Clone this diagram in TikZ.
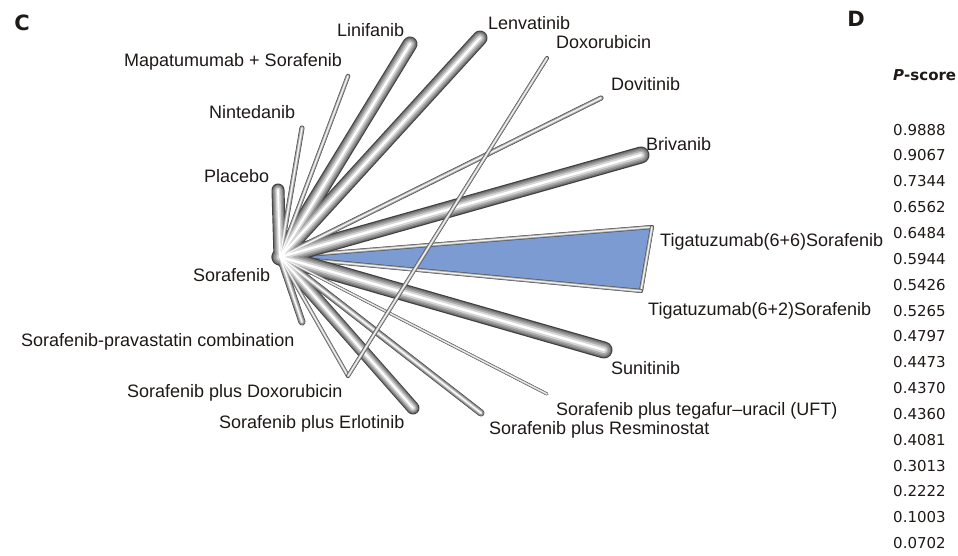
\documentclass[tikz,border=0pt]{standalone}
\usepackage{fontspec}
\setmainfont{Liberation Sans}
\newfontfamily\numfont{DejaVu Sans}
\definecolor{tribl}{RGB}{123,155,210}
\definecolor{inkc}{RGB}{30,24,22}
\newcommand{\tube}[3]{%
  \foreach \f/\c in {1/75,0.86/56,0.72/44,0.55/32,0.36/16,0.14/0}
    \draw[line width=\f*#3pt, black!\c, line cap=round] (#1) -- (#2);
}
\begin{document}
\begin{tikzpicture}[x=1pt,y=-1pt,
  lbl/.style={font=\fontsize{18}{21}\selectfont, inner sep=0pt, anchor=mid west, text=inkc},
  pval/.style={font=\numfont\fontsize{15}{18}\selectfont, inner sep=0pt, anchor=mid west, text=inkc},
  panel/.style={font=\numfont\bfseries\fontsize{21}{24}\selectfont, inner sep=0pt, text=inkc}]
\useasboundingbox (0,0) rectangle (958,556);
% end points of the edges
\coordinate (sor) at (280,257);
\coordinate (plac) at (278,190);
\coordinate (nint) at (302,128);
\coordinate (mapa) at (348,76);
\coordinate (lini) at (410,44);
\coordinate (lenv) at (480,38);
\coordinate (doxo) at (547,58);
\coordinate (dovi) at (601,98);
\coordinate (briv) at (641,155);
\coordinate (t66) at (652,227);
\coordinate (t62) at (641,291);
\coordinate (suni) at (604,350);
\coordinate (uft) at (547,394);
\coordinate (resm) at (481,413);
\coordinate (erlo) at (413,408);
\coordinate (sdox) at (348,376);
\coordinate (prav) at (302,322);
% three-arm trial
\fill[tribl] (sor) -- (t66) -- (t62) -- cycle;
\tube{sor}{t66}{4}
\tube{t66}{t62}{4}
\tube{t62}{sor}{4}
% edges from Sorafenib, layer by layer so they merge at the hub
\foreach \f/\c in {1/75,0.86/56,0.72/44,0.55/32,0.36/16,0.14/0}
  \foreach \e/\w in {briv/17,suni/17,lini/15,lenv/15,erlo/13,plac/13,prav/7,resm/7,nint/5,dovi/5,mapa/4.5,sdox/4,uft/3}
    \draw[line width=\f*\w pt, black!\c, line cap=round] (sor) -- (\e);
\tube{doxo}{sdox}{4}
% treatment labels
\node[lbl] (lplac) at (204,180) {Placebo};
\node[lbl] (lnint) at (209,116) {Nintedanib};
\node[lbl] (lmapa) at (124,64) {Mapatumumab + Sorafenib};
\node[lbl] (llini) at (337,34) {Linifanib};
\node[lbl] (llenv) at (488,27) {Lenvatinib};
\node[lbl] (ldoxo) at (556,46) {Doxorubicin};
\node[lbl] (ldovi) at (611,88) {Dovitinib};
\node[lbl] (lbriv) at (646,148) {Brivanib};
\node[lbl] (lt66) at (660,244) {Tigatuzumab(6+6)Sorafenib};
\node[lbl] (lt62) at (648,313) {Tigatuzumab(6+2)Sorafenib};
\node[lbl] (lsuni) at (611,372) {Sunitinib};
\node[lbl] (luft) at (556,413) {Sorafenib plus tegafur--uracil (UFT)};
\node[lbl] (lresm) at (489,432) {Sorafenib plus Resminostat};
\node[lbl] (lerlo) at (219,426) {Sorafenib plus Erlotinib};
\node[lbl] (lsdox) at (127,395) {Sorafenib plus Doxorubicin};
\node[lbl] (lprav) at (21,344) {Sorafenib-pravastatin combination};
\node[lbl] (lsor) at (193,279) {Sorafenib};
% panel letters and P-scores
\node[panel] (pc) at (22,23) {C};
\node[panel] (pd) at (856,19) {D};
\node[pval] (phead) at (893,78) {\bfseries\itshape P\upshape-score};
\foreach \v [count=\i] in {0.9888,0.9067,0.7344,0.6562,0.6484,0.5944,0.5426,0.5265,0.4797,0.4473,0.4370,0.4360,0.4081,0.3013,0.2222,0.1003,0.0702}
  \node[pval] (p\i) at (893,{132.5+(\i-1)*25.84}) {\v};
\end{tikzpicture}
\end{document}
